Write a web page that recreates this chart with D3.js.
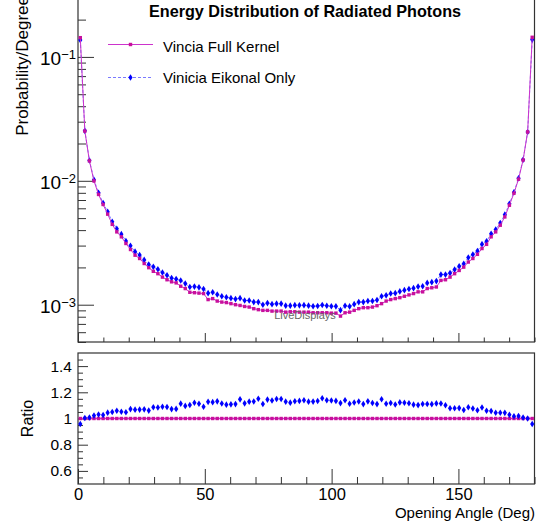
<!DOCTYPE html>
<html>
<head>
<meta charset="utf-8">
<script src="https://cdn.jsdelivr.net/npm/d3@7"></script>
<style>
body { margin: 0; background: #fff; }
svg { display: block; font-family: "Liberation Sans", Arial, Helvetica, sans-serif; }
</style>
</head>
<body>
<svg id="chart" width="547" height="532"></svg>
<script>
// 100 bins of 1.8 deg between 0 and 180
var nBins = 100;
var angleRange = [0, 180];

var fullKernel = [
  0.143, 0.0252, 0.01449, 0.00998, 0.00776, 0.00644, 0.00538, 0.00445, 0.00387, 0.00353,
  0.00312, 0.00279, 0.00251, 0.00236, 0.00215, 0.00199, 0.00186, 0.00178, 0.00167, 0.00159,
  0.00153, 0.00150, 0.00141, 0.00135, 0.00126, 0.00125, 0.00124, 0.00123, 0.00110, 0.00112,
  0.00107, 0.00105, 0.00104, 0.00102, 0.00100, 0.000986, 0.000968, 0.000957, 0.000929, 0.000912,
  0.000900, 0.000900, 0.000888, 0.000888, 0.000888, 0.000871, 0.000877, 0.000877, 0.000871, 0.000871,
  0.000871, 0.000861, 0.000861, 0.000861, 0.000861, 0.000855, 0.000855, 0.000809, 0.000861, 0.000871,
  0.000900, 0.000929, 0.000946, 0.000946, 0.000957, 0.000982, 0.00102, 0.00107, 0.00110, 0.00112,
  0.00114, 0.00117, 0.00120, 0.00123, 0.00127, 0.00127, 0.00135, 0.00137, 0.00139, 0.00157,
  0.00159, 0.00167, 0.00178, 0.00189, 0.00201, 0.00221, 0.00236, 0.00255, 0.00284, 0.00307,
  0.00353, 0.00387, 0.00438, 0.00511, 0.00635, 0.00794, 0.0103, 0.0147, 0.0248, 0.144
];

var eikonalOnly = [
  0.137, 0.0253, 0.0146, 0.0102, 0.00800, 0.00661, 0.00562, 0.00467, 0.00410, 0.00371,
  0.00327, 0.00299, 0.00268, 0.00252, 0.00230, 0.00211, 0.00202, 0.00193, 0.00182, 0.00173,
  0.00164, 0.00161, 0.00157, 0.00148, 0.00139, 0.00140, 0.00138, 0.00134, 0.00124, 0.00126,
  0.00121, 0.00117, 0.00115, 0.00113, 0.00111, 0.00113, 0.00108, 0.00108, 0.00105, 0.00105,
  0.00100, 0.00103, 0.00101, 0.00102, 0.00102, 0.000983, 0.000983, 0.000992, 0.000988, 0.000992,
  0.000983, 0.000972, 0.000976, 0.000994, 0.000981, 0.000972, 0.000970, 0.000904, 0.000981, 0.000969,
  0.00101, 0.00105, 0.00105, 0.00107, 0.00107, 0.00109, 0.00117, 0.00119, 0.00123, 0.00124,
  0.00128, 0.00131, 0.00134, 0.00136, 0.00140, 0.00141, 0.00150, 0.00152, 0.00155, 0.00175,
  0.00175, 0.00180, 0.00192, 0.00204, 0.00214, 0.00240, 0.00254, 0.00271, 0.00308, 0.00325,
  0.00373, 0.00404, 0.00457, 0.00533, 0.00653, 0.00808, 0.0105, 0.0148, 0.0248, 0.138
];

var seriesNames = ["Vincia Full Kernel", "Vinicia Eikonal Only"];
var logMajorTicks = [1e-3, 1e-2, 1e-1];
var ratioTicks = [0.6, 0.8, 1, 1.2, 1.4];
var angleTicks = [0, 50, 100, 150];

var magenta = "#c8109c", magentaLine = "#cc33cc", blue = "#0000ff", blueLine = "#7a7aff";

var svg = d3.select("#chart");

var binW = (angleRange[1] - angleRange[0]) / nBins;
var centers = d3.range(nBins).map(function (i) { return angleRange[0] + (i + 0.5) * binW; });

var x = d3.scaleLinear().domain(angleRange).range([78, 534.5]);
var yTop = d3.scaleLog().domain([5e-4, 0.3]).range([342, -2.2]);
var yRat = d3.scaleLinear().domain([0.5, 1.5]).range([484, 353]);

var ratioFull = fullKernel.map(function (v) { return v / v; });
var ratioEik = eikonalOnly.map(function (v, i) { return v / fullKernel[i]; });

function noDomain(g) { g.select(".domain").remove(); }

// ---- top pad axes
var minorLog = yTop.ticks().filter(function (v) {
  return v >= 5e-4 && v <= 0.3 && logMajorTicks.indexOf(v) < 0;
});
svg.append("g").attr("transform", "translate(78,0)").attr("color", "#333")
  .call(d3.axisLeft(yTop).tickValues(minorLog).tickSize(-8).tickFormat(""))
  .call(noDomain);
var ymaj = svg.append("g").attr("transform", "translate(78,0)").attr("color", "#333")
  .call(d3.axisLeft(yTop).tickValues(logMajorTicks).tickSize(-16).tickFormat(""))
  .call(noDomain);
ymaj.selectAll(".tick text").remove();
ymaj.selectAll(".tick").append("text")
  .attr("x", -2).attr("y", 8)
  .attr("text-anchor", "end")
  .attr("fill", "#000")
  .style("font-size", "19px")
  .each(function (d) {
    var t = d3.select(this);
    t.append("tspan").text("10");
    t.append("tspan").attr("dy", -6).style("font-size", "13px")
      .text("\u2212" + Math.round(-Math.log10(d)));
  });

var minorAngles = d3.range(0, 181, 10).filter(function (v) { return angleTicks.indexOf(v) < 0; });
svg.append("g").attr("transform", "translate(0,342)").attr("color", "#333")
  .call(d3.axisBottom(x).tickValues(minorAngles).tickSize(-4.5).tickFormat(""))
  .call(noDomain);
svg.append("g").attr("transform", "translate(0,342)").attr("color", "#333")
  .call(d3.axisBottom(x).tickValues(angleTicks).tickSize(-9).tickFormat(""))
  .call(noDomain);

// ---- ratio pad axes
var minorRatio = d3.range(11, 30).map(function (k) { return k * 0.05; })
  .filter(function (v) { return Math.abs(Math.round(v * 5) - v * 5) > 1e-6; });
svg.append("g").attr("transform", "translate(78,0)").attr("color", "#333")
  .call(d3.axisLeft(yRat).tickValues(minorRatio).tickSize(-5).tickFormat(""))
  .call(noDomain);
svg.append("g").attr("transform", "translate(78,0)").attr("color", "#333")
  .call(d3.axisLeft(yRat).tickValues(ratioTicks).tickSize(-10).tickPadding(6)
    .tickFormat(function (d) { return String(d); }))
  .call(noDomain)
  .selectAll("text").attr("fill", "#000").style("font-size", "15.5px");

svg.append("g").attr("transform", "translate(0,484)").attr("color", "#333")
  .call(d3.axisBottom(x).tickValues(minorAngles).tickSize(-7).tickFormat(""))
  .call(noDomain);
svg.append("g").attr("transform", "translate(0,484)").attr("color", "#333")
  .call(d3.axisBottom(x).tickValues(angleTicks).tickSize(-15).tickPadding(4.6))
  .call(noDomain)
  .selectAll("text").attr("fill", "#000").style("font-size", "16.5px");

// ---- frames
svg.append("rect").attr("x", x(0)).attr("y", yTop(0.3))
  .attr("width", x(180) - x(0)).attr("height", yTop(5e-4) - yTop(0.3))
  .attr("fill", "none").attr("stroke", "#333").attr("stroke-width", 1.2);
svg.append("rect").attr("x", x(0)).attr("y", yRat(1.5))
  .attr("width", x(180) - x(0)).attr("height", yRat(0.5) - yRat(1.5))
  .attr("fill", "none").attr("stroke", "#333").attr("stroke-width", 1.2);

// ---- markers
var diamond = "M0,-3.3L2.1,0L0,3.3L-2.1,0Z";

function drawSquares(g, xs, ys, yscale) {
  g.selectAll("rect.m").data(ys).enter().append("rect").attr("class", "m")
    .attr("x", function (d, i) { return x(xs[i]) - 1.7; })
    .attr("y", function (d) { return yscale(d) - 1.7; })
    .attr("width", 3.4).attr("height", 3.4)
    .attr("fill", magenta);
}
function drawDiamonds(g, xs, ys, yscale) {
  g.selectAll("path.m").data(ys).enter().append("path").attr("class", "m")
    .attr("d", diamond)
    .attr("transform", function (d, i) { return "translate(" + x(xs[i]) + "," + yscale(d) + ")"; })
    .attr("fill", blue);
}

// top pad data
var topG = svg.append("g");
var lineTop = function (vals) {
  return d3.line().x(function (d, i) { return x(centers[i]); }).y(function (d) { return yTop(d); })(vals);
};
topG.append("path").attr("d", lineTop(eikonalOnly))
  .attr("fill", "none").attr("stroke", blueLine).attr("stroke-width", 1)
  .attr("stroke-dasharray", "3,2");
drawDiamonds(topG.append("g"), centers, eikonalOnly, yTop);
topG.append("path").attr("d", lineTop(fullKernel))
  .attr("fill", "none").attr("stroke", magentaLine).attr("stroke-width", 1);
drawSquares(topG.append("g"), centers, fullKernel, yTop);

// ratio pad data
var ratG = svg.append("g");
ratG.append("path")
  .attr("d", d3.line().x(function (d, i) { return x(centers[i]); }).y(function (d) { return yRat(d); })(ratioFull))
  .attr("fill", "none").attr("stroke", magentaLine).attr("stroke-width", 1.3);
drawSquares(ratG.append("g"), centers, ratioFull, yRat);
drawDiamonds(ratG.append("g"), centers, ratioEik, yRat);

// ---- texts
svg.append("text").attr("x", 305).attr("y", 17).attr("text-anchor", "middle")
  .style("font-size", "16.2px").style("font-weight", "bold")
  .text("Energy Distribution of Radiated Photons");

svg.append("text").attr("transform", "translate(28,-4) rotate(-90)")
  .attr("text-anchor", "end").style("font-size", "17px")
  .text("Probability/Degree");
svg.append("text").attr("transform", "translate(33,418.5) rotate(-90)")
  .attr("text-anchor", "middle").style("font-size", "16px")
  .text("Ratio");
svg.append("text").attr("x", 535).attr("y", 518).attr("text-anchor", "end")
  .style("font-size", "15px")
  .text("Opening Angle (Deg)");

// legend
var legend = svg.append("g");
legend.append("line").attr("x1", 108).attr("x2", 153).attr("y1", 44.5).attr("y2", 44.5)
  .attr("stroke", magentaLine).attr("stroke-width", 1);
legend.append("rect").attr("x", 128.8).attr("y", 42.8).attr("width", 3.4).attr("height", 3.4)
  .attr("fill", magenta);
legend.append("text").attr("x", 163).attr("y", 51.5).style("font-size", "15px").text(seriesNames[0]);
legend.append("line").attr("x1", 108).attr("x2", 153).attr("y1", 77.5).attr("y2", 77.5)
  .attr("stroke", blueLine).attr("stroke-width", 1).attr("stroke-dasharray", "3,2");
legend.append("path").attr("d", diamond).attr("transform", "translate(130.5,77.5)").attr("fill", blue);
legend.append("text").attr("x", 163).attr("y", 83).style("font-size", "15px").text(seriesNames[1]);

svg.append("text").attr("x", 305).attr("y", 319).attr("text-anchor", "middle")
  .style("font-size", "11px").attr("fill", "#666")
  .text("LiveDisplays");
</script>
</body>
</html>
